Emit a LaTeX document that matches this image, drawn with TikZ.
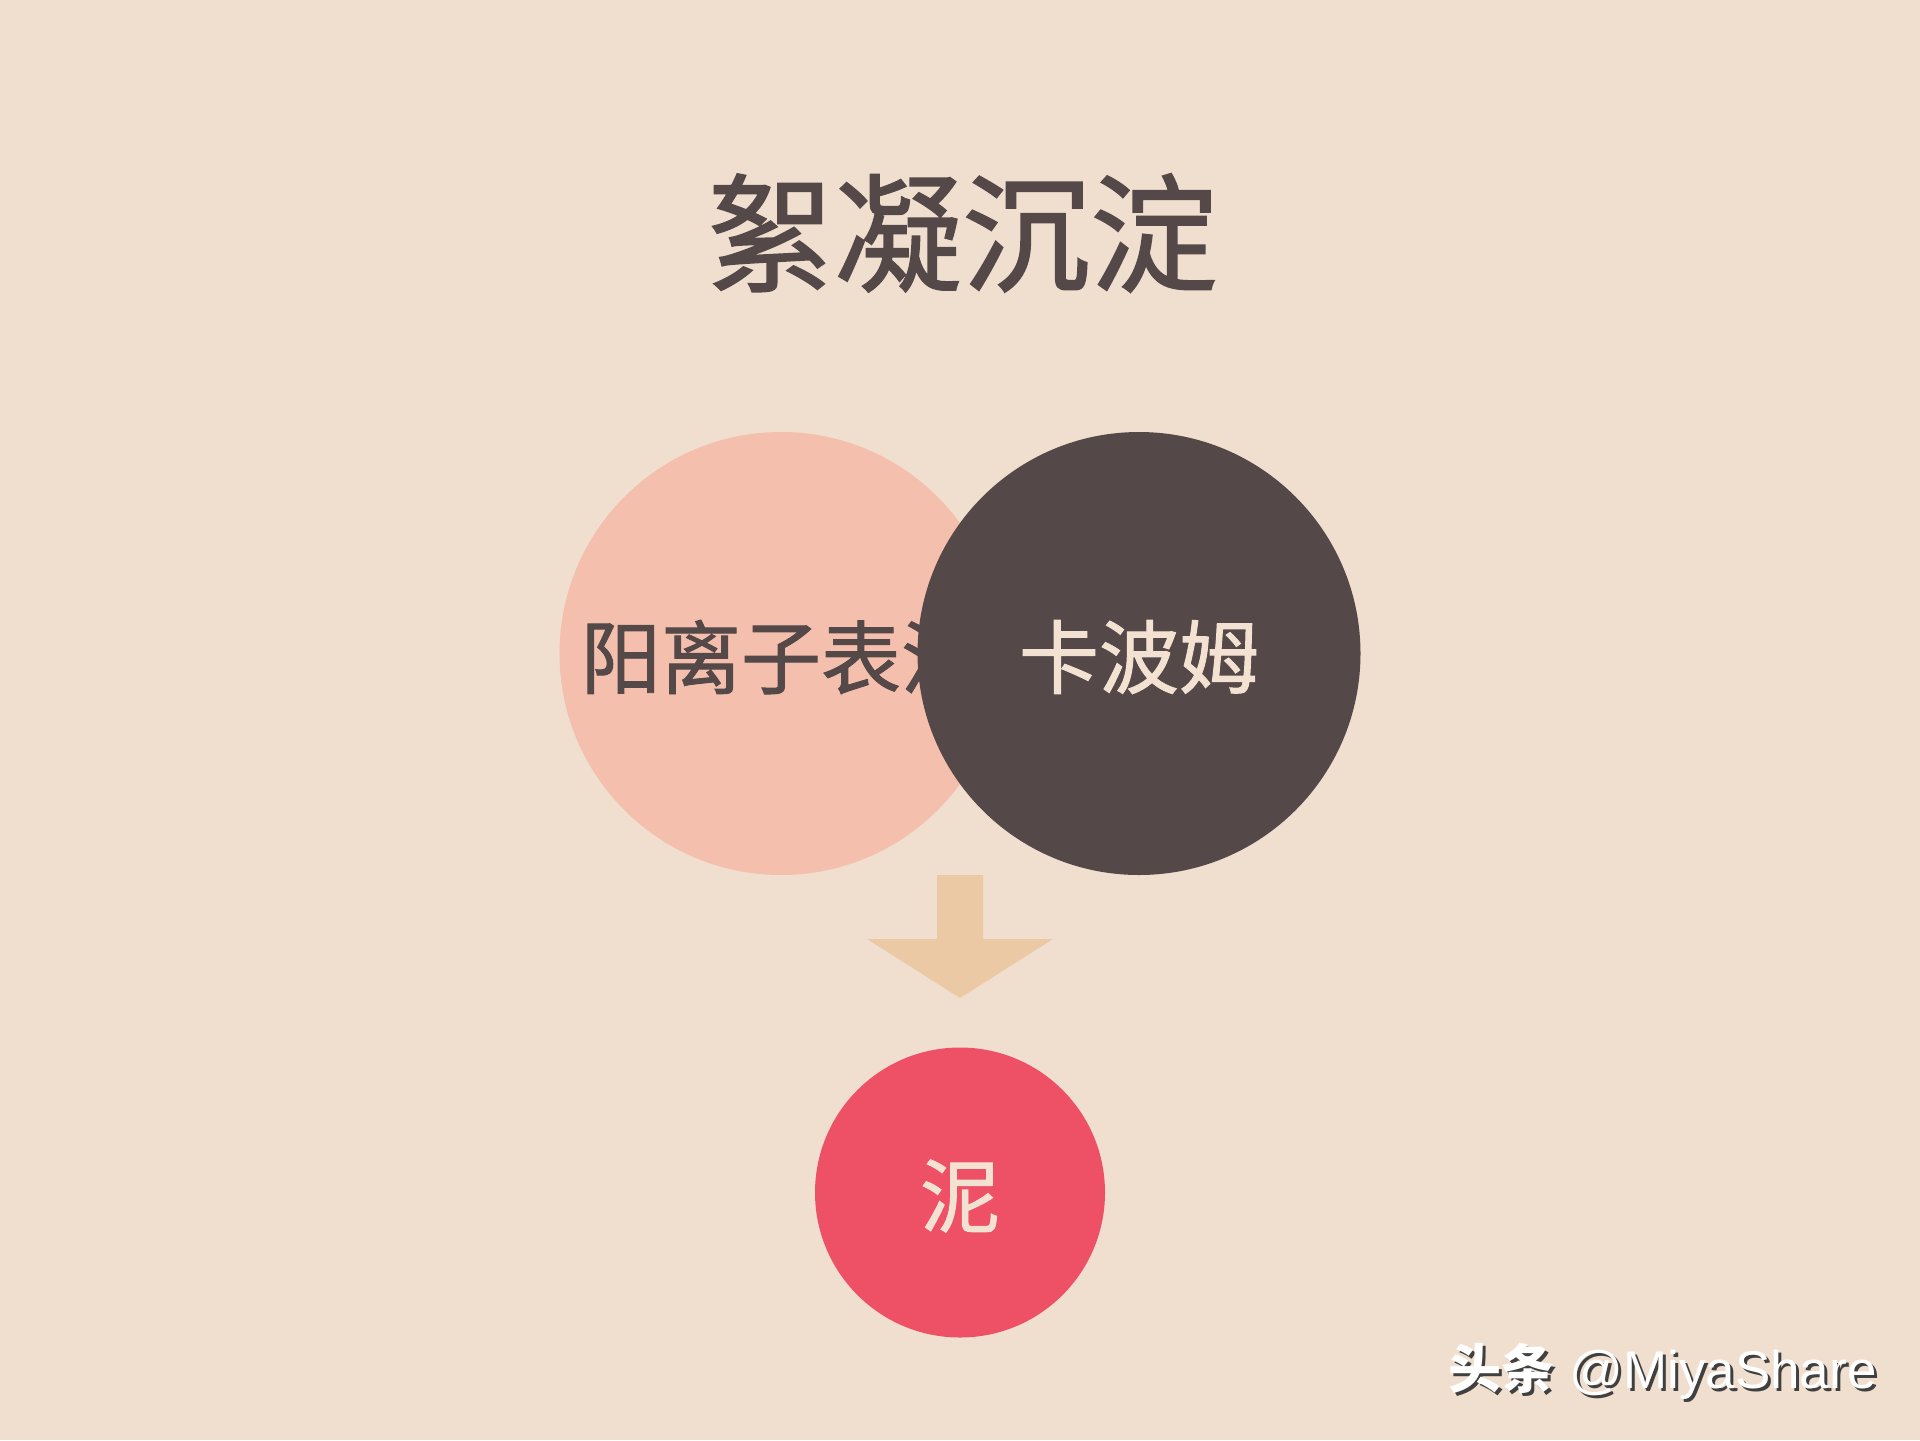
\documentclass[tikz,border=0pt]{standalone}
\usepackage{fontspec}
\setmainfont{Liberation Sans}
\newfontfamily\cjk{Noto Sans CJK SC}
\newfontfamily\cjkm{Noto Sans CJK SC}[FakeBold=1.2]
\definecolor{bgc}{HTML}{F0DFCE}
\definecolor{darkc}{HTML}{544848}
\definecolor{pinkc}{HTML}{F5BFAD}
\definecolor{arrowc}{HTML}{EBC9A4}
\definecolor{redc}{HTML}{EE5165}
\definecolor{creamc}{HTML}{F3E2D2}
\tikzset{
  disc/.style={circle, inner sep=0pt, draw=none},
  label40/.style={font=\cjkm\fontsize{40pt}{40pt}\selectfont, inner sep=0pt},
}
\begin{document}
\begin{tikzpicture}[x=0.5pt,y=-0.5pt]
\fill[bgc] (0,0) rectangle (1920,1440);
\useasboundingbox (0,0) rectangle (1920,1440);
% title
\node[font=\cjkm\fontsize{64pt}{64pt}\selectfont, text=darkc, inner sep=0pt] (title) at (962,233) {絮凝沉淀};
% left circle
\node[disc, fill=pinkc, minimum size=221.5pt] (left) at (781,653.5) {};
\node[label40, text=darkc] (lefttext) at (781,657) {阳离子表活};
% right circle
\node[disc, fill=darkc, minimum size=221.5pt] (right) at (1139,653.5) {};
\node[label40, text=creamc] (righttext) at (1139,657) {卡波姆};
% arrow
\coordinate (atop) at (960,875);
\coordinate (atip) at (960,998);
\fill[arrowc] (937,875) -- (983,875) -- (983,939) -- (1053,939) -- (atip) -- (867,939) -- (937,939) -- cycle;
% red circle
\node[disc, fill=redc, minimum size=145pt] (mud) at (960,1192.5) {};
\node[label40, text=creamc] (mudtext) at (960,1196) {泥};
% watermark
\node[font=\fontsize{26.5pt}{26.5pt}\selectfont, text=black!75, inner sep=0pt, anchor=east] (wmshadow) at (1880,1374) {{\cjk\bfseries 头条} @MiyaShare};
\node[font=\fontsize{26.5pt}{26.5pt}\selectfont, text=white, inner sep=0pt, anchor=east] (wm) at (1877,1371) {{\cjk\bfseries 头条} @MiyaShare};
\end{tikzpicture}
\end{document}
